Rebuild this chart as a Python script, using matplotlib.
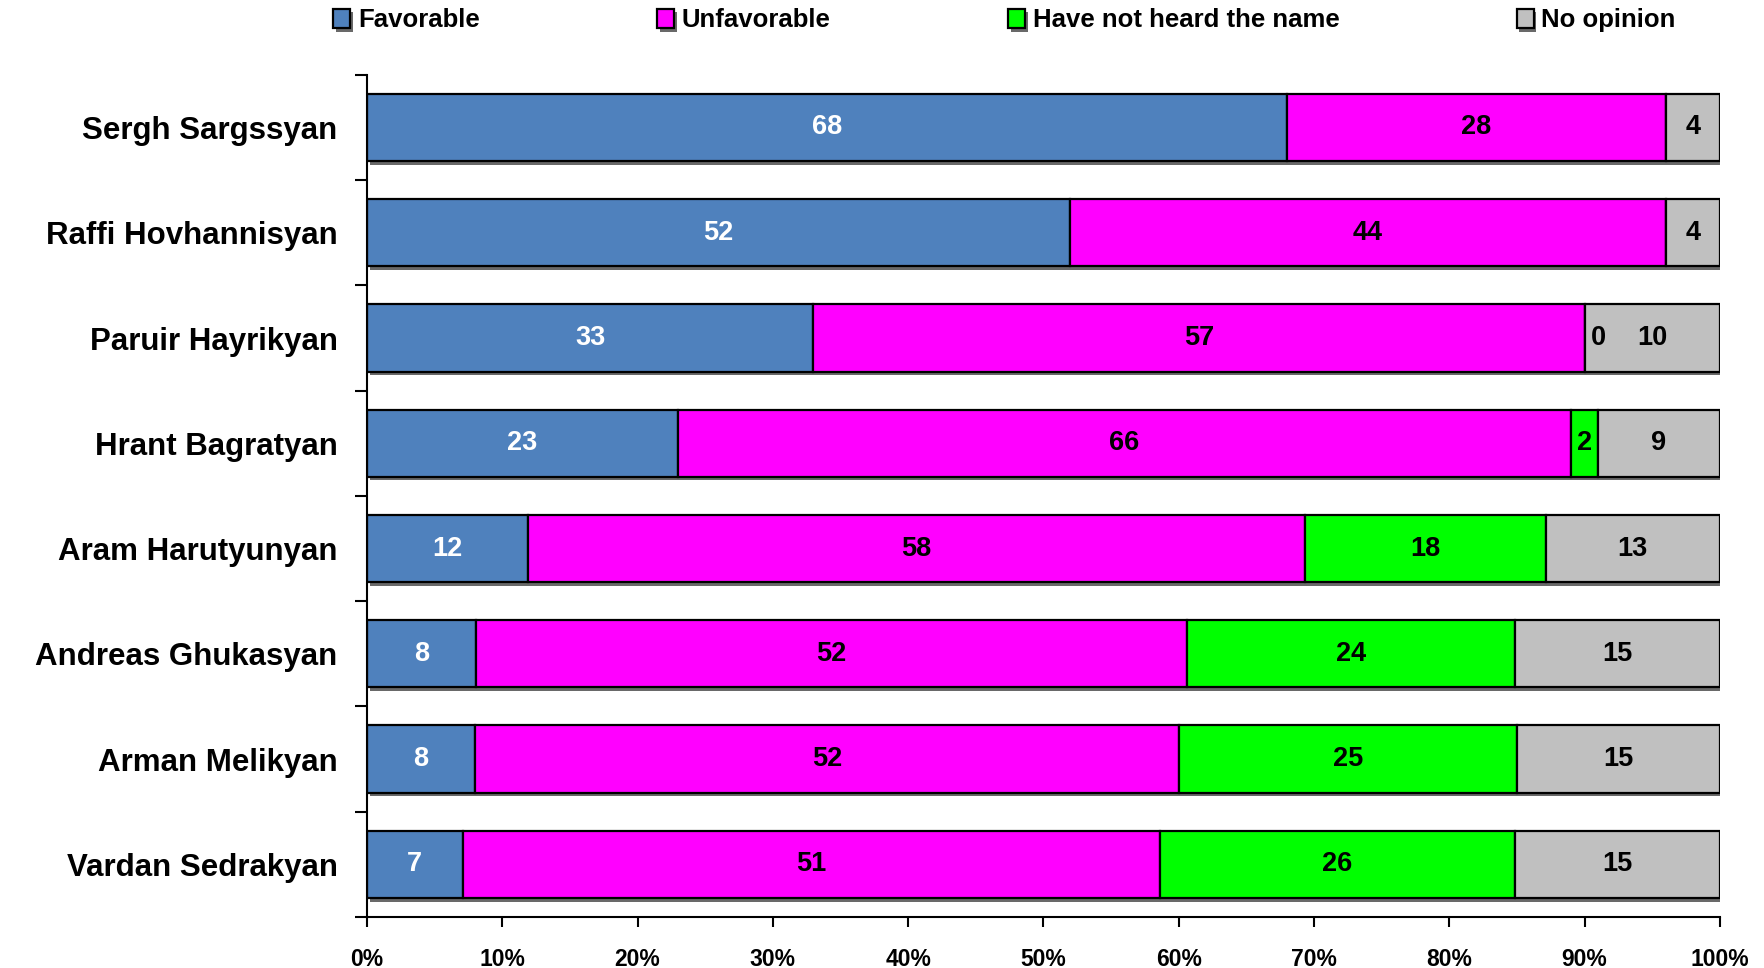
import numpy as np
import matplotlib
matplotlib.use("Agg")
import matplotlib.pyplot as plt
import matplotlib.patheffects as pe
from matplotlib.ticker import PercentFormatter, FixedLocator

plt.rcParams['font.family'] = ['Liberation Sans', 'DejaVu Sans']
plt.rcParams['font.weight'] = 'bold'

candidates = ["Sergh Sargssyan", "Raffi Hovhannisyan", "Paruir Hayrikyan", "Hrant Bagratyan",
              "Aram Harutyunyan", "Andreas Ghukasyan", "Arman Melikyan", "Vardan Sedrakyan"]
favorable = [68, 52, 33, 23, 12, 8, 8, 7]
unfavorable = [28, 44, 57, 66, 58, 52, 52, 51]
not_heard = [0, 0, 0, 2, 18, 24, 25, 26]
no_opinion = [4, 4, 10, 9, 13, 15, 15, 15]
series_names = ["Favorable", "Unfavorable", "Have not heard the name", "No opinion"]
colors = ["#4F81BD", "#FF00FF", "#00FF00", "#C0C0C0"]
label_colors = ["white", "black", "black", "black"]
x_ticks = [0, 0.1, 0.2, 0.3, 0.4, 0.5, 0.6, 0.7, 0.8, 0.9, 1.0]

data = np.array([favorable, unfavorable, not_heard, no_opinion], dtype=float)
totals = data.sum(axis=0)
shares = data / totals

fig = plt.figure(figsize=(17.64, 9.68), dpi=100)
ax = fig.add_axes([0.208, 0.0527, 0.767, 0.870])

y = np.arange(len(candidates))
left = np.zeros(len(candidates))
shadow = [pe.SimplePatchShadow(offset=(2, -2.5), shadow_rgbFace='0.35', alpha=0.9), pe.Normal()]
handles = []
for i, name in enumerate(series_names):
    bars = ax.barh(y, shares[i], left=left, height=0.64, color=colors[i],
                   edgecolor='black', linewidth=1.6, label=name)
    for b in bars:
        b.set_path_effects(shadow)
    show = [j for j in range(len(candidates)) if data[i, j] > 0 or (i == 2 and j == 2)]
    labels = [str(int(v)) if j in show else "" for j, v in enumerate(data[i])]
    anns = ax.bar_label(bars, labels=labels, label_type='center', color=label_colors[i],
                        fontsize=19.5, fontweight='bold')
    for j, a in enumerate(anns):
        if data[i, j] == 0 and labels[j]:
            a.xyann = (10, 0)
    handles.append(bars)
    left = left + shares[i]

ax.set_xlim(0, 1)
ax.set_ylim(len(candidates) - 0.5, -0.5)
ax.set_xticks(x_ticks)
ax.xaxis.set_major_formatter(PercentFormatter(1.0, decimals=0))
ax.tick_params(axis='x', length=7, width=1.5, pad=15, labelsize=16.5)
ax.set_yticks(y)
ax.set_yticklabels(candidates, fontsize=22.5, fontweight='bold')
ax.tick_params(axis='y', which='major', length=0, pad=21)
ax.yaxis.set_minor_locator(FixedLocator(np.arange(-0.5, len(candidates), 1.0)))
ax.tick_params(axis='y', which='minor', length=9, width=1.5)
for s in ['top', 'right']:
    ax.spines[s].set_visible(False)
for s in ['left', 'bottom']:
    ax.spines[s].set_linewidth(1.5)
for lbl in ax.get_xticklabels():
    lbl.set_fontweight('bold')

fig.legend(handles=handles, labels=series_names, loc='center left',
           bbox_to_anchor=(0.189, 0.979), ncol=4, frameon=False,
           handlelength=0.66, handleheight=0.8, handletextpad=0.3,
           columnspacing=6.9, borderpad=0, borderaxespad=0,
           prop={'weight': 'bold', 'size': 18.5})

fig.savefig("out.png", dpi=100)
